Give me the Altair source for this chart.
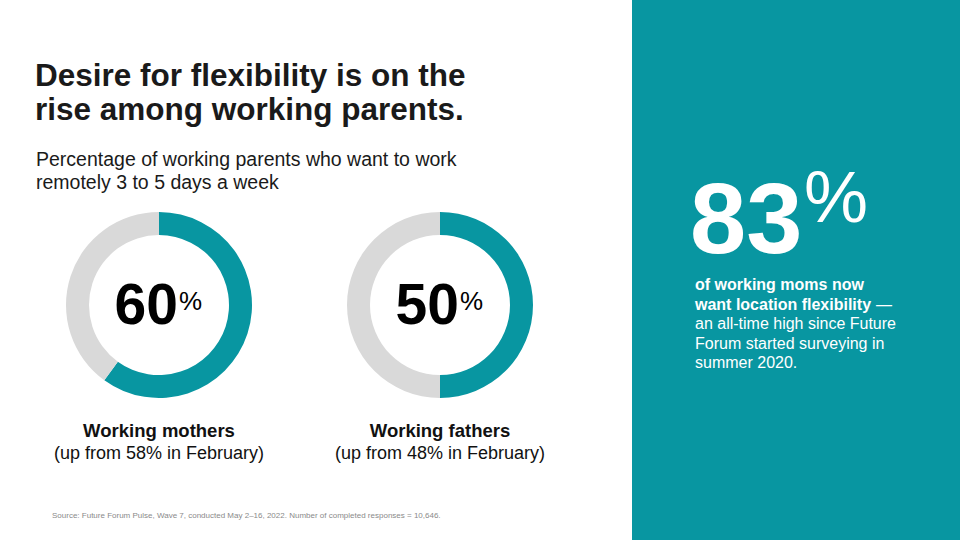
import altair as alt
import pandas as pd

# ---- data ----
categories = ["Working mothers", "Working fathers"]
current_share = [60, 50]
february_share = [58, 48]
moms_location_flex = 83

title_lines = ["Desire for flexibility is on the", "rise among working parents."]
subtitle_lines = ["Percentage of working parents who want to work", "remotely 3 to 5 days a week"]
panel_bold_lines = ["of working moms now", "want location flexibility"]
panel_dash = "—"
panel_regular_lines = ["an all-time high since Future", "Forum started surveying in", "summer 2020."]
source_note = ("Source: Future Forum Pulse, Wave 7, conducted May 2–16, 2022. "
               "Number of completed responses = 10,646.")

TEAL = "#0896A1"
GRAY = "#D9D9D9"
FONT = "Liberation Sans"

parents = pd.DataFrame({"category": categories, "current": current_share, "february": february_share})
parents["feb_label"] = ["(up from " + str(v) + "% in February)" for v in february_share]

donut_rows = []
for c, v in zip(categories, current_share):
    donut_rows.append({"category": c, "part": "Want remote", "value": v, "rank": 0})
    donut_rows.append({"category": c, "part": "Other", "value": 100 - v, "rank": 1})
donut = pd.DataFrame(donut_rows)

xscale = alt.Scale(type="point", domain=categories, range=[159, 440], padding=0)
X = alt.X("category:N", scale=xscale, axis=None)


def text_layer(text, x, y, size, weight="normal", color="#1a1a1a", align="left"):
    return alt.Chart(alt.Data(values=[{"t": text}])).mark_text(
        font=FONT, fontSize=size, fontWeight=weight, color=color, align=align, baseline="alphabetic"
    ).encode(text="t:N", x=alt.value(x), y=alt.value(y))


layers = []

# right teal panel
layers.append(
    alt.Chart(alt.Data(values=[{"p": 1}])).mark_rect(color=TEAL).encode(
        x=alt.value(632), x2=alt.value(960), y=alt.value(0), y2=alt.value(540)
    )
)

# donuts
for c in categories:
    layers.append(
        alt.Chart(donut).transform_filter(alt.datum.category == c).mark_arc(
            innerRadius=70, outerRadius=93
        ).encode(
            x=X,
            y=alt.value(305),
            theta=alt.Theta("value:Q", stack=True, scale=alt.Scale(domain=[0, 100])),
            color=alt.Color("part:N", scale=alt.Scale(domain=["Want remote", "Other"], range=[TEAL, GRAY]), legend=None),
            order=alt.Order("rank:Q"),
        )
    )

# big numbers in donuts
layers.append(
    alt.Chart(parents).mark_text(font=FONT, fontSize=57, fontWeight="bold", color="#000000",
                                 align="right", baseline="alphabetic", dx=19).encode(
        x=X, y=alt.value(324), text="current:Q")
)
layers.append(
    alt.Chart(parents).mark_text(font=FONT, fontSize=26, color="#000000",
                                 align="left", baseline="alphabetic", dx=20).encode(
        x=X, y=alt.value(310), text=alt.value("%"))
)
# labels under donuts
layers.append(
    alt.Chart(parents).mark_text(font=FONT, fontSize=18.5, fontWeight="bold", color="#111111",
                                 align="center", baseline="alphabetic").encode(
        x=X, y=alt.value(437), text="category:N")
)
layers.append(
    alt.Chart(parents).mark_text(font=FONT, fontSize=18, color="#111111",
                                 align="center", baseline="alphabetic").encode(
        x=X, y=alt.value(459), text="feb_label:N")
)

# title & subtitle
for i, line in enumerate(title_lines):
    layers.append(text_layer(line, 35, 86 + i * 34, 31.5, "bold", "#1a1a1a"))
for i, line in enumerate(subtitle_lines):
    layers.append(text_layer(line, 36, 166 + i * 23, 19.5, "normal", "#1a1a1a"))

# right panel texts
layers.append(
    alt.Chart(alt.Data(values=[{"v": moms_location_flex}])).mark_text(
        font=FONT, fontSize=101, fontWeight="bold", color="white", align="left", baseline="alphabetic"
    ).encode(text="v:Q", x=alt.value(690), y=alt.value(253))
)
layers.append(text_layer("%", 804, 222, 72, "normal", "white"))
for i, line in enumerate(panel_bold_lines):
    layers.append(text_layer(line, 695, 290 + i * 19.5, 16, "bold", "white"))
layers.append(text_layer(panel_dash, 876, 309.5, 16, "normal", "white"))
for i, line in enumerate(panel_regular_lines):
    layers.append(text_layer(line, 695, 329 + i * 19.5, 16, "normal", "white"))

# source
layers.append(text_layer(source_note, 52, 518, 8, "normal", "#8a8a8a"))

chart = alt.layer(*layers).properties(
    width=960, height=540, background="white", padding=0,
    autosize=alt.AutoSizeParams(type="none"),
).configure_view(stroke=None)

chart.save("out.html", embed_options={"renderer": "svg", "actions": False})
